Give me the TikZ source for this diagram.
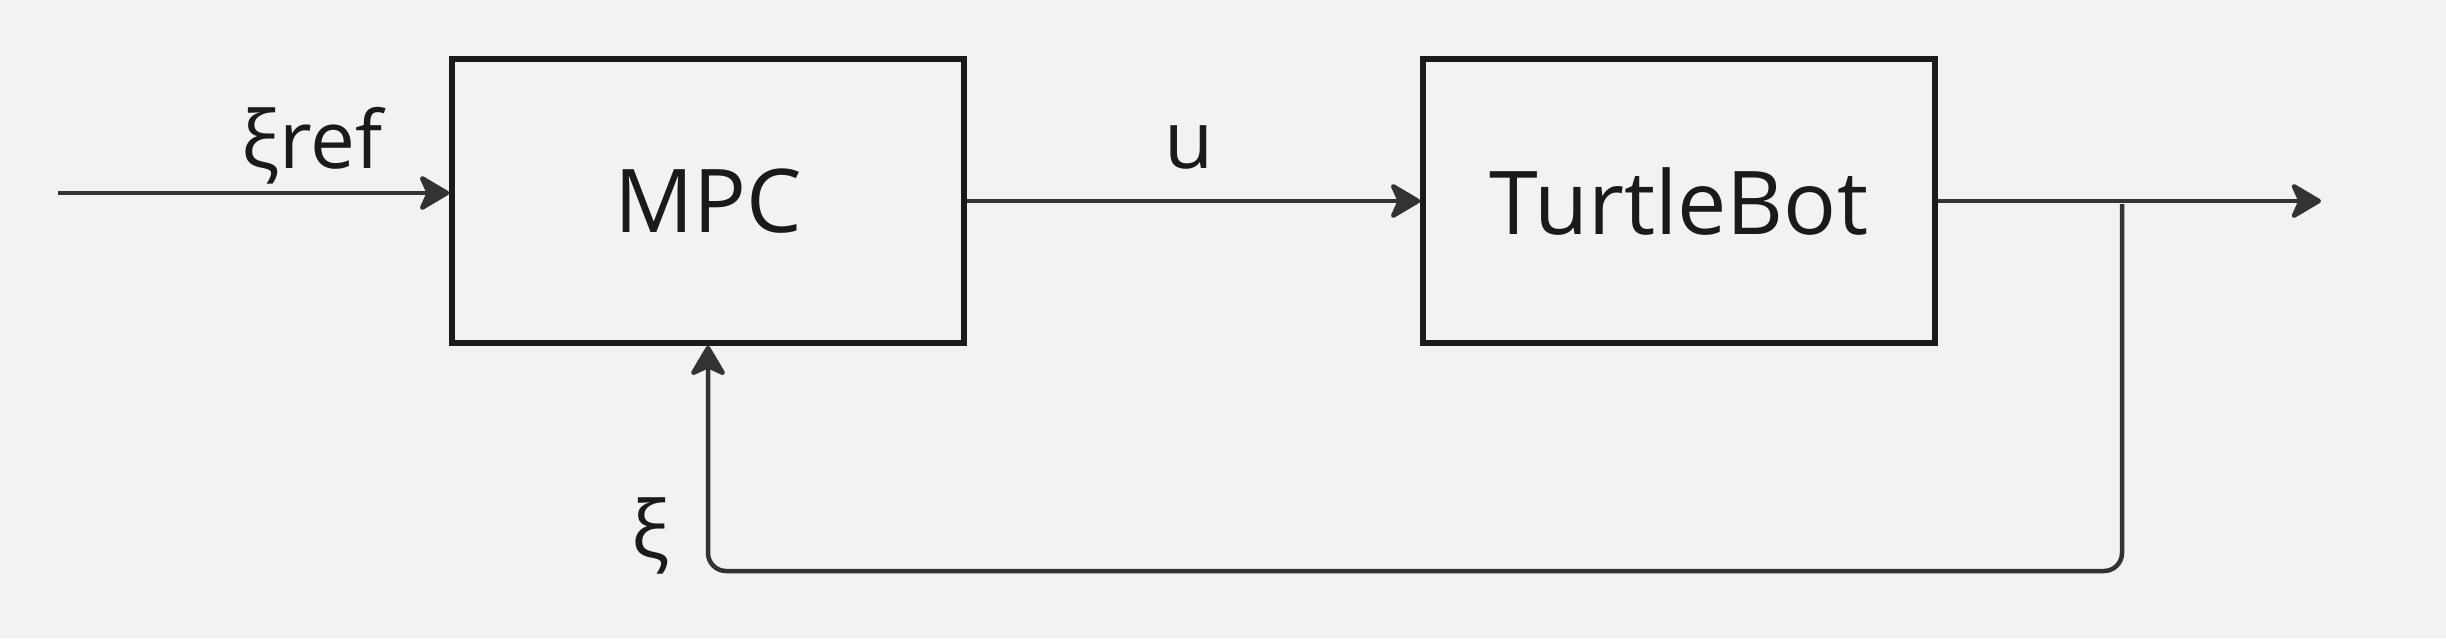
\documentclass[tikz,border=0pt]{standalone}
\usepackage{fontspec}
\setmainfont{Open Sans}
\usetikzlibrary{arrows.meta}
\definecolor{bg}{HTML}{F2F2F2}
\definecolor{boxline}{HTML}{1A1A1A}
\definecolor{conncol}{HTML}{333333}
\definecolor{txt}{HTML}{1A1A1A}
\tikzset{
  blockbox/.style={draw=boxline, line width=5.5pt, rectangle, minimum width=512pt, minimum height=284pt, inner sep=0pt, text=txt, font=\fontsize{88}{100}\selectfont},
  tip/.style={-{Stealth[length=34pt, width=40pt, inset=9pt, round]}},
  conn/.style={draw=conncol, line width=4.5pt, tip},
  feed/.style={draw=conncol, line width=4.5pt},
  lbl/.style={text=txt, font=\fontsize{80}{96}\selectfont, inner sep=0pt, anchor=base}
}
\begin{document}
\begin{tikzpicture}[x=1pt, y=-1pt]
\fill[bg] (0,0) rectangle (2446,638);
\useasboundingbox (0,0) rectangle (2446,638);
\node[blockbox] (mpc) at (708,201) {MPC};
\node[blockbox] (tb) at (1679,201) {TurtleBot};
\coordinate (in) at (58,193);
\coordinate (out) at (2321,201);
\coordinate (fb) at (2122,204);
\coordinate (fbl) at (2122,571);
\draw[conn] (in) -- (in -| mpc.west);
\draw[conn] (mpc.east) -- (tb.west);
\draw[conn] (tb.east) -- (out);
\draw[feed, rounded corners=18pt, tip] (fb) -- (fbl) -- (fbl -| mpc.south) -- (mpc.south);
\node[lbl] (lref) at (312,168) {ξref};
\node[lbl] (lu) at (1189,168) {u};
\node[lbl] (lxi) at (650,558) {ξ};
\end{tikzpicture}
\end{document}
